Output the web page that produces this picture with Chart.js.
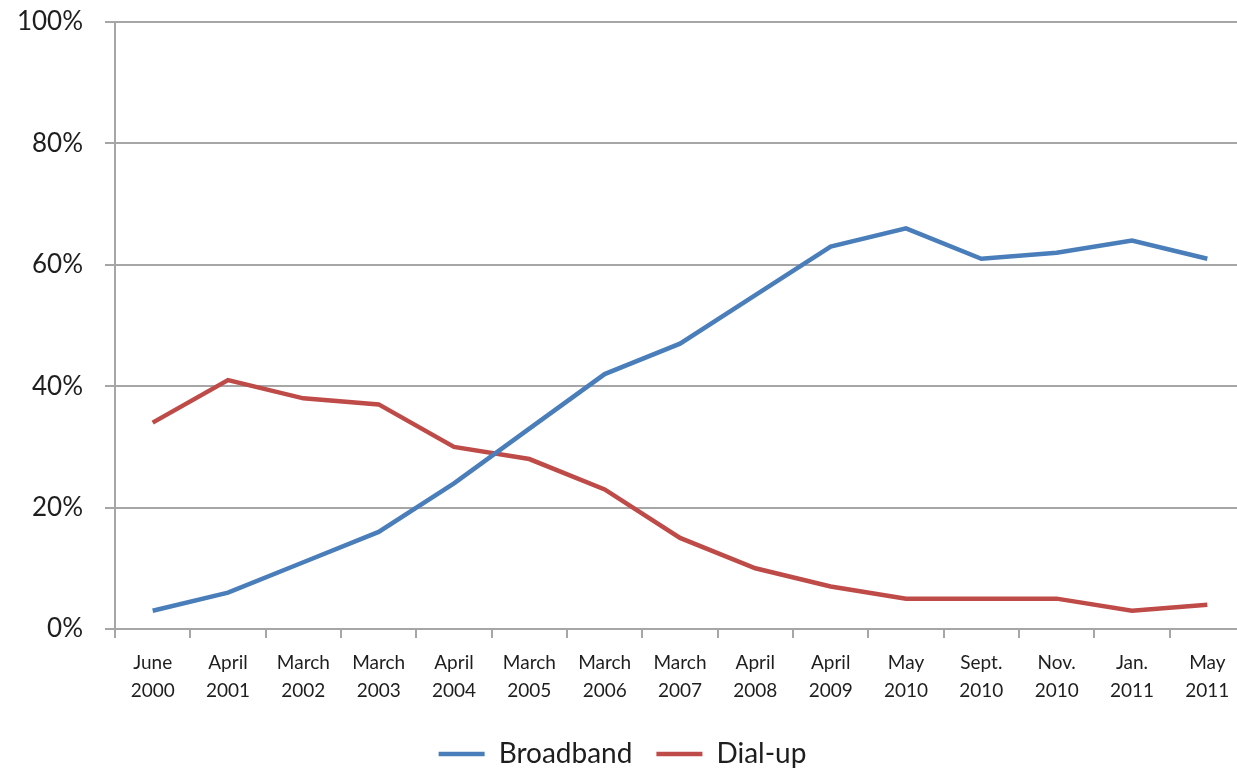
<!DOCTYPE html>
<html>
<head>
<meta charset="utf-8">
<script src="https://cdn.jsdelivr.net/npm/chart.js@4/dist/chart.umd.min.js"></script>
<style>
  html, body { margin: 0; padding: 0; background: #fff; overflow: hidden; }
  #wrap { width: 1245px; height: 768px; }
</style>
</head>
<body>
<div id="wrap"><canvas id="mainChart" width="1245" height="768"></canvas></div>
<script>
// survey dates (two-line labels)
const surveyDates = [
  ['June', '2000'], ['April', '2001'], ['March', '2002'], ['March', '2003'],
  ['April', '2004'], ['March', '2005'], ['March', '2006'], ['March', '2007'],
  ['April', '2008'], ['April', '2009'], ['May', '2010'], ['Sept.', '2010'],
  ['Nov.', '2010'], ['Jan.', '2011'], ['May', '2011']
];

// share of adults, percent
const broadband = [3, 6, 11, 16, 24, 33, 42, 47, 55, 63, 66, 61, 62, 64, 61];
const dialup = [34, 41, 38, 37, 30, 28, 23, 15, 10, 7, 5, 5, 5, 3, 4];

const yTicks = [0, 20, 40, 60, 80, 100];

const gridGray = '#a6a6a6';
const textColor = '#1e1e1e';
const fontFamily = 'Lato, "Open Sans", sans-serif';
const legendPad = 24;

const ctx = document.getElementById('mainChart').getContext('2d');

new Chart(ctx, {
  type: 'line',
  data: {
    labels: surveyDates,
    datasets: [
      {
        label: 'Broadband',
        data: broadband,
        borderColor: '#4a7ebb',
        backgroundColor: '#4a7ebb',
        borderWidth: 4.5,
        pointRadius: 0,
        tension: 0
      },
      {
        label: 'Dial-up',
        data: dialup,
        borderColor: '#be4b48',
        backgroundColor: '#be4b48',
        borderWidth: 4.5,
        pointRadius: 0,
        tension: 0
      }
    ]
  },
  options: {
    responsive: false,
    animation: false,
    layout: { padding: { top: 22, left: 0, right: 0, bottom: -10 } },
    plugins: {
      tooltip: { enabled: false },
      legend: {
        position: 'bottom',
        labels: {
          usePointStyle: true,
          pointStyle: 'line',
          pointStyleWidth: 46,
          boxHeight: 4,
          padding: legendPad,
          color: textColor,
          font: { family: fontFamily, size: 28 }
        }
      }
    },
    scales: {
      x: {
        offset: true,
        grid: {
          offset: true,
          drawOnChartArea: false,
          drawTicks: true,
          tickLength: 9,
          color: gridGray,
          lineWidth: 2
        },
        border: { color: gridGray, width: 2 },
        ticks: {
          color: textColor,
          padding: 11,
          maxRotation: 0,
          autoSkip: false,
          font: { family: fontFamily, size: 19, lineHeight: 1.47 }
        },
        afterFit: (scale) => {
          scale.height = 111 - legendPad;
          scale.paddingLeft = 0;
          scale.paddingRight = 0;
        }
      },
      y: {
        min: 0,
        max: 100,
        afterBuildTicks: (scale) => { scale.ticks = yTicks.map(v => ({ value: v })); },
        grid: {
          color: gridGray,
          lineWidth: 2,
          tickLength: 10
        },
        border: { color: gridGray, width: 2 },
        ticks: {
          color: textColor,
          padding: 22,
          font: { family: fontFamily, size: 26 },
          callback: (v) => v + '%'
        },
        afterFit: (scale) => {
          scale.width = 115;
          scale.paddingTop = 0;
          scale.paddingBottom = 0;
        }
      }
    }
  }
});
</script>
</body>
</html>
